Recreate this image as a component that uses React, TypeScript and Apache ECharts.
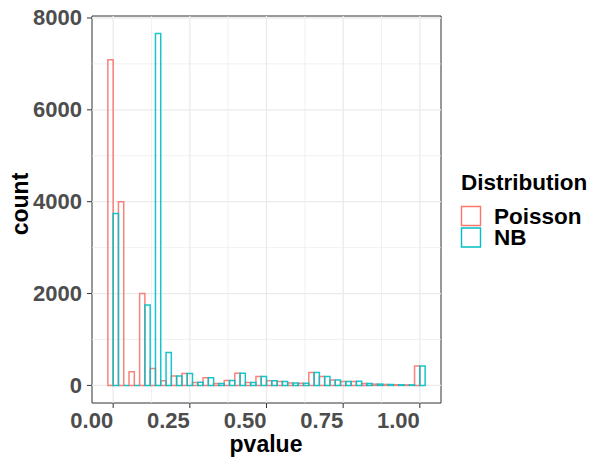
import React, { useEffect, useRef } from "react";
import * as echarts from "echarts";

// 30 histogram bins, centred at k/29 (k = 0..29)
const binCenters = Array.from({ length: 30 }, (_, k) => k / 29);
const binWidth = 1 / 29;

const poissonCounts = [
  7090, 4000, 300, 2000, 370, 100, 205, 260, 65, 166,
  43, 105, 267, 65, 195, 100, 87, 50, 45, 280,
  195, 120, 87, 87, 43, 28, 20, 15, 12, 420,
];
const nbCounts = [
  3745, 0, 0, 1750, 7660, 715, 205, 260, 68, 166,
  43, 105, 267, 65, 195, 100, 87, 50, 45, 280,
  195, 120, 87, 90, 43, 28, 20, 15, 12, 420,
];

const seriesNames = ["Poisson", "NB"];
const seriesColors = ["#F8766D", "#00BFC4"];

const xTicks = [0, 0.25, 0.5, 0.75, 1];
const xMinorGrid = [0.125, 0.375, 0.625, 0.875];
const yTicks = [0, 2000, 4000, 6000, 8000];
const yMinorGrid = [1000, 3000, 5000, 7000];

const X_MIN = -0.069;
const X_MAX = 1.069;
const Y_MIN = -383;
const Y_MAX = 8043;

const FONT = "'Liberation Sans', Arial, Helvetica, sans-serif";

export default function App() {
  const ref = useRef<HTMLDivElement>(null);

  useEffect(() => {
    document.body.style.margin = "0";
    if (!ref.current) return;
    const chart = echarts.init(ref.current, null, { renderer: "svg" });

    const gridSeries = (vals: number[], vertical: boolean, width: number) => ({
      type: "custom",
      silent: true,
      z: 1,
      data: vals.map((v) => (vertical ? [v, 0] : [0, v])),
      renderItem: (params: any, api: any) => {
        const a = vertical
          ? api.coord([api.value(0), Y_MIN])
          : api.coord([X_MIN, api.value(1)]);
        const b = vertical
          ? api.coord([api.value(0), Y_MAX])
          : api.coord([X_MAX, api.value(1)]);
        return {
          type: "line",
          shape: { x1: a[0], y1: a[1], x2: b[0], y2: b[1] },
          style: { stroke: "#EBEBEB", lineWidth: width },
        };
      },
    });

    // axis tick marks, drawn just outside the panel
    const tickSeries = (vals: number[], vertical: boolean) => ({
      type: "custom",
      silent: true,
      clip: false,
      z: 5,
      data: vals.map((v) => (vertical ? [v, 0] : [0, v])),
      renderItem: (params: any, api: any) => {
        const p = vertical
          ? api.coord([api.value(0), Y_MIN])
          : api.coord([X_MIN, api.value(1)]);
        const shape = vertical
          ? { x1: p[0], y1: p[1], x2: p[0], y2: p[1] + 5 }
          : { x1: p[0] - 5, y1: p[1], x2: p[0], y2: p[1] };
        return {
          type: "line",
          shape,
          style: { stroke: "#333333", lineWidth: 1 },
        };
      },
    });

    const barSeries = (idx: number, counts: number[]) => ({
      type: "custom",
      name: seriesNames[idx],
      z: 3 + idx,
      data: counts.map((c, k) => [binCenters[k], c]),
      renderItem: (params: any, api: any) => {
        const center = api.value(0);
        const v = api.value(1);
        const x0 = idx === 0 ? center - binWidth / 2 : center;
        const x1 = x0 + binWidth / 2;
        const p0 = api.coord([x0, v]);
        const p1 = api.coord([x1, 0]);
        return {
          type: "rect",
          shape: {
            x: p0[0],
            y: p0[1],
            width: p1[0] - p0[0],
            height: p1[1] - p0[1],
          },
          style: { fill: "none", stroke: seriesColors[idx], lineWidth: 1.5, opacity: 0.9 },
        };
      },
    });

    const tickLabel = {
      fontSize: 22,
      fontWeight: "bold",
      color: "#4D4D4D",
      fontFamily: FONT,
    };

    const LEG_FONT = 22.5;

    chart.setOption({
      animation: false,
      backgroundColor: "#ffffff",
      grid: {
        left: 92,
        top: 16,
        width: 349,
        height: 387,
        show: true,
        borderColor: "#333333",
        borderWidth: 1,
        backgroundColor: "#ffffff",
      },
      xAxis: {
        type: "value",
        min: X_MIN,
        max: X_MAX,
        axisLine: { show: false },
        splitLine: { show: false },
        axisTick: { show: false },
        axisLabel: {
          ...tickLabel,
          customValues: xTicks,
          formatter: (v: number) => v.toFixed(2),
          align: "right",
          margin: 6,
        },
      },
      yAxis: {
        type: "value",
        min: Y_MIN,
        max: Y_MAX,
        axisLine: { show: false },
        splitLine: { show: false },
        axisTick: { show: false },
        axisLabel: {
          ...tickLabel,
          customValues: yTicks,
          formatter: (v: number) => String(v),
          margin: 10,
        },
      },
      series: [
        gridSeries(xMinorGrid, true, 0.7),
        gridSeries(yMinorGrid, false, 0.7),
        gridSeries(xTicks, true, 1.3),
        gridSeries(yTicks, false, 1.3),
        tickSeries(xTicks, true),
        tickSeries(yTicks, false),
        barSeries(0, poissonCounts),
        barSeries(1, nbCounts),
      ],
      graphic: [
        {
          type: "text",
          x: 266,
          y: 444,
          style: {
            text: "pvalue",
            fontSize: 23,
            fontWeight: "bold",
            fontFamily: FONT,
            fill: "#000000",
            align: "center",
            verticalAlign: "middle",
          },
        },
        {
          type: "text",
          x: 20,
          y: 204,
          rotation: Math.PI / 2,
          style: {
            text: "count",
            fontSize: 23,
            fontWeight: "bold",
            fontFamily: FONT,
            fill: "#000000",
            align: "center",
            verticalAlign: "middle",
          },
        },
        {
          type: "text",
          x: 461,
          y: 182,
          style: {
            text: "Distribution",
            fontSize: LEG_FONT,
            fontWeight: "bold",
            fontFamily: FONT,
            fill: "#000000",
            align: "left",
            verticalAlign: "middle",
          },
        },
        ...seriesNames.flatMap((name, i) => [
          {
            type: "rect",
            shape: { x: 461.5, y: 206.5 + i * 21.5, width: 19, height: 19 },
            style: { fill: "#ffffff", stroke: seriesColors[i], lineWidth: 1.4 },
          },
          {
            type: "text",
            x: 494,
            y: 216 + i * 21.5,
            style: {
              text: name,
              fontSize: LEG_FONT,
              fontWeight: "bold",
              fontFamily: FONT,
              fill: "#000000",
              align: "left",
              verticalAlign: "middle",
            },
          },
        ]),
      ],
    });

    return () => chart.dispose();
  }, []);

  return <div ref={ref} style={{ width: 596, height: 462 }} />;
}
